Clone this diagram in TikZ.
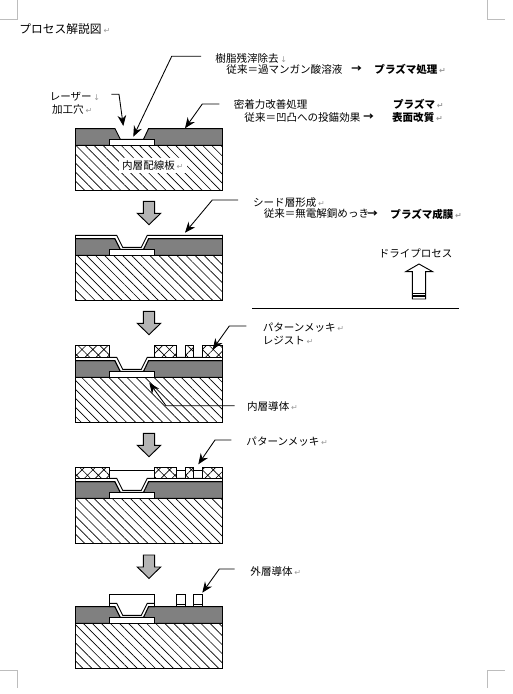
\documentclass[tikz,border=0pt]{standalone}
\usepackage{fontspec}
\setmainfont{Noto Sans CJK JP}
\newfontfamily\markfont{DejaVu Sans}
\usetikzlibrary{arrows.meta,patterns.meta}
\definecolor{cInk}{HTML}{000000}
\definecolor{cResin}{HTML}{808080}
\definecolor{cBlock}{HTML}{B4B4B4}
\definecolor{cMark}{HTML}{9A9A9A}
\definecolor{cCrop}{HTML}{BDBDBD}
\newcommand{\pmark}{\,{\markfont\fontsize{6}{6}\selectfont\textcolor{cMark}{↵}}}
\newcommand{\lmark}{\,{\markfont\fontsize{6}{6}\selectfont\textcolor{cMark}{↓}}}

\begin{document}
\begin{tikzpicture}[x=0.75pt,y=-0.75pt,
      line width=0.7pt,
      txt/.style={anchor=west,inner sep=0pt,font=\fontsize{7.9}{9}\selectfont},
      btxt/.style={txt,font=\fontsize{7.9}{9}\selectfont\bfseries},
      lead/.style={-{Stealth[length=8pt,width=6.5pt]},line width=0.65pt},
      crop/.style={cCrop,line width=0.75pt},
      hatch/.style={pattern={Lines[angle=-45,distance=4.8pt,line width=0.5pt]},pattern color=cInk},
      resist/.style={draw,preaction={fill=white},pattern={Hatch[angle=45,distance=5.8pt,line width=0.5pt]},pattern color=cInk},
      panel/.pic={
        \draw[hatch] (75.5,255.3) rectangle (222.5,300.3);
        \draw[fill=cResin] (75.5,238.7) -- (115,238.7) -- (120.3,249.3) -- (143.5,249.3) -- (148.5,238.7)
          -- (222.5,238.7) -- (222.5,255.3) -- (75.5,255.3) -- cycle;
        \draw[fill=white] (109.5,249.3) rectangle (154.5,255.3);
      },
      seedfull/.pic={
        \draw[fill=white] (75.5,235.3) -- (116.7,235.3) -- (122.7,247.3) -- (141.3,247.3) -- (147.3,235.3)
          -- (222.5,235.3) -- (222.5,238.7) -- (148.5,238.7) -- (143.5,249.3) -- (120.3,249.3)
          -- (115,238.7) -- (75.5,238.7) -- cycle;
      },
      seedshort/.pic={
        \draw[fill=white] (109.5,235.3) -- (116.7,235.3) -- (122.7,247.3) -- (141.3,247.3) -- (147.3,235.3)
          -- (154.5,235.3) -- (154.5,238.7) -- (148.5,238.7) -- (143.5,249.3) -- (120.3,249.3)
          -- (115,238.7) -- (109.5,238.7) -- cycle;
      },
      downarr/.pic={
        \draw[fill=cBlock] (143.3,0) -- (154.7,0) -- (154.7,12) -- (160.7,12) -- (149,23.4)
          -- (137.3,12) -- (143.3,12) -- cycle;
      }]
    \useasboundingbox (0,0) rectangle (513,694);
    % crop marks
    \draw[crop] (0,19) -- (17,19) -- (17,0);
    \draw[crop] (487,0) -- (487,19) -- (505,19);
    \draw[crop] (0,670) -- (17,670) -- (17,688);
    \draw[crop] (487,688) -- (487,670) -- (505,670);
    % title
    \node[txt,font=\fontsize{8.8}{10}\selectfont] (title) at (19,29) {プロセス解説図\pmark};
    % panel 1
    \pic at (0,-110) {panel};
    \node[txt,fill=white,inner xsep=2.5pt,inner ysep=2pt] (lbBoard) at (118.4,165.7) {内層配線板\pmark};
    \node[txt] (lbSmear) at (215,58) {樹脂残滓除去\lmark};
    \node[txt] (lbSmearB) at (226,69.3) {従来＝過マンガン酸溶液};
    \node[btxt] (lbSmearC) at (351,69.3) {→};
    \node[btxt] (lbSmearD) at (374,69.3) {プラズマ処理\pmark};
    \node[txt] (lbLaser) at (49.3,96.3) {レーザー\lmark};
    \node[txt] (lbLaserB) at (51.7,109) {加工穴\pmark};
    \node[txt] (lbAdh) at (233.3,104) {密着力改善処理};
    \node[btxt] (lbAdhB) at (392.7,104) {プラズマ\pmark};
    \node[txt] (lbAdhC) at (244,117.7) {従来＝凹凸への投錨効果};
    \node[btxt] (lbAdhD) at (363,117.7) {→};
    \node[btxt] (lbAdhE) at (391.7,117.7) {表面改質\pmark};
    \coordinate (bSmear) at (171.7,56.3);
    \coordinate (tSmear) at (133.3,136.7);
    \coordinate (bLaser) at (119,94.3);
    \coordinate (tLaser) at (123.3,126);
    \coordinate (bAdh) at (202.3,104);
    \coordinate (tAdh) at (185,128.3);
    \draw[lead,shorten <=10.5pt] (lbSmear.west |- bSmear) -- (bSmear) -- (tSmear);
    \draw[lead,shorten <=8pt] (lbLaser.east |- bLaser) -- (bLaser) -- (tLaser);
    \draw[lead,shorten <=10.5pt] (lbAdh.west |- bAdh) -- (bAdh) -- (tAdh);
    % panel 2
    \pic at (0,201.3) {downarr};
    \pic at (0,0) {panel};
    \pic at (0,0) {seedfull};
    \node[txt] (lbSeed) at (252.7,202.3) {シード層形成\pmark};
    \node[txt] (lbSeedB) at (263.3,214) {従来＝無電解銅めっき};
    \node[btxt] (lbSeedC) at (367,214) {→};
    \node[btxt] (lbSeedD) at (390,214) {プラズマ成膜\pmark};
    \coordinate (bSeed) at (212.3,200);
    \coordinate (tSeed) at (185,232.7);
    \draw[lead,shorten <=11pt] (lbSeed.west |- bSeed) -- (bSeed) -- (tSeed);
    % dry process
    \node[txt] (lbDry) at (378.3,253.3) {ドライプロセス};
    \draw (419,264) -- (432.7,271.7) -- (425.7,271.7) -- (425.7,299) -- (412.3,299)
      -- (412.3,271.7) -- (405.7,271.7) -- cycle;
    \draw (412.3,293.3) -- (425.7,293.3);
    \draw[line width=1.2pt] (412.3,296) -- (425.7,296);
    \draw (252.3,308) -- (459,308);
    % panel 3
    \pic at (0,311.3) {downarr};
    \pic at (0,122) {panel};
    \pic at (0,122) {seedfull};
    \draw[resist] (75.5,345) rectangle (109.7,357.3);
    \draw[resist] (154.7,345) rectangle (176.7,357.3);
    \draw[resist] (185.3,345) rectangle (193.7,357.3);
    \draw[resist] (202.3,345) rectangle (222.5,357.3);
    \node[txt] (lbPlate) at (262.3,327.3) {パターンメッキ\pmark};
    \node[txt] (lbResist) at (262.3,340) {レジスト\pmark};
    \node[txt] (lbInner) at (246.7,406.7) {内層導体\pmark};
    \coordinate (bPlate) at (229.3,326);
    \coordinate (tPlate) at (212.7,349.3);
    \coordinate (bInner) at (166,405.7);
    \coordinate (tInner) at (149.3,382.7);
    \draw[lead,shorten <=12pt] (lbPlate.west |- bPlate) -- (bPlate) -- (tPlate);
    \draw[lead,shorten <=9pt] (lbInner.west |- bInner) -- (bInner) -- (tInner);
    % panel 4
    \pic at (0,433.3) {downarr};
    \pic at (0,243) {panel};
    \pic at (0,243) {seedfull};
    \draw[resist] (75.5,467.3) rectangle (109.7,478.3);
    \draw[resist] (154.7,467.3) rectangle (176.7,478.3);
    \draw[resist] (185.3,467.3) rectangle (193.7,478.3);
    \draw[resist] (202.3,467.3) rectangle (222.5,478.3);
    \draw (109.7,470) -- (154.7,470);
    \draw (176.7,470) -- (185.3,470);
    \draw (193.7,470) -- (202.3,470);
    \node[txt] (lbPlateB) at (246,442) {パターンメッキ\pmark};
    \coordinate (bPlateB) at (215,440);
    \coordinate (tPlateB) at (198.3,464.3);
    \draw[lead,shorten <=11pt] (lbPlateB.west |- bPlateB) -- (bPlateB) -- (tPlateB);
    % panel 5
    \pic at (0,555) {downarr};
    \pic at (0,368) {panel};
    \pic at (0,368) {seedshort};
    \draw (109.5,606.7) -- (109.5,594.3) -- (154.5,594.3) -- (154.5,606.7);
    \draw (176.3,594.3) rectangle (185.7,606.7);
    \draw (176.3,604) -- (185.7,604);
    \draw (193.3,594.3) rectangle (202.7,606.7);
    \draw (193.3,604) -- (202.7,604);
    \node[txt] (lbOuter) at (250,571) {外層導体\pmark};
    \coordinate (bOuter) at (219.3,569);
    \coordinate (tOuter) at (202.3,592.7);
    \draw[lead,shorten <=11.5pt] (lbOuter.west |- bOuter) -- (bOuter) -- (tOuter);
\end{tikzpicture}
\end{document}
